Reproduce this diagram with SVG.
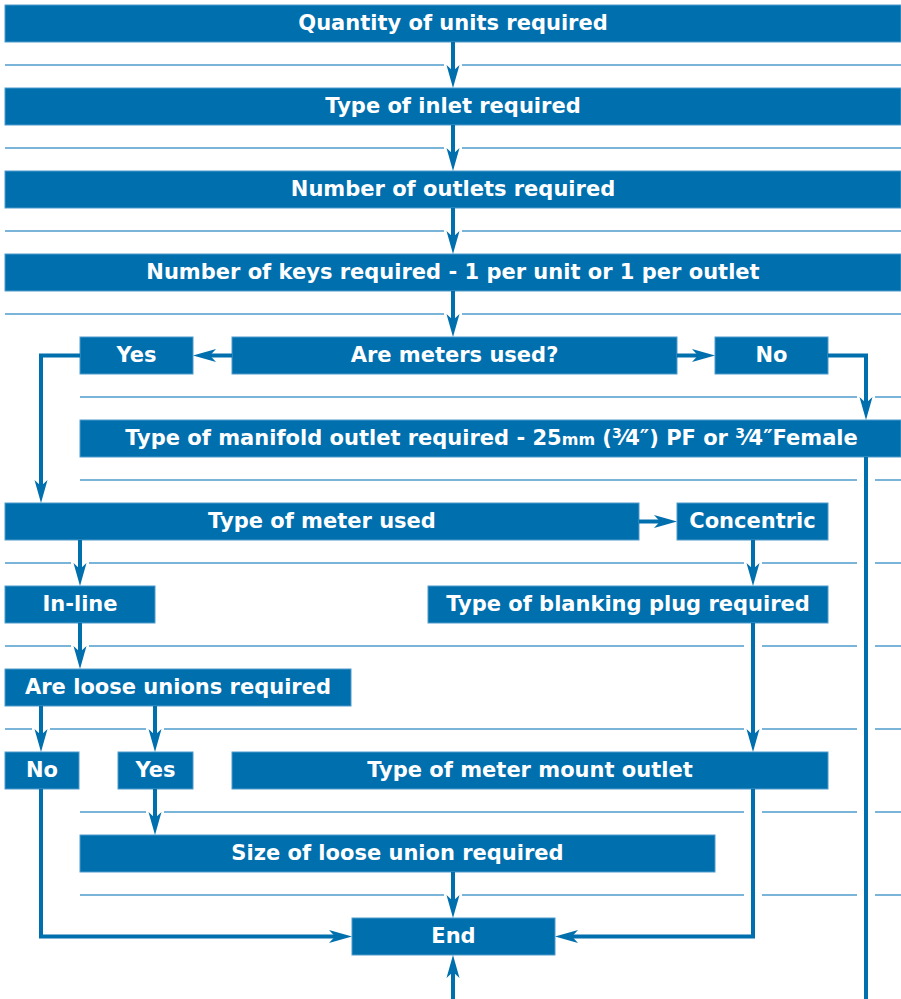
<svg xmlns="http://www.w3.org/2000/svg" width="901" height="999" viewBox="0 0 901 999">
<style>
.box{fill:#006fae;stroke:#4f9ccb;stroke-width:1}
.t{font-family:"DejaVu Sans","Liberation Sans",sans-serif;font-weight:bold;font-size:21px;fill:#ffffff;text-anchor:middle}
.grid{stroke:#4f9ccb;stroke-width:1.5;fill:none}
.c{stroke:#006fae;stroke-width:4;fill:none;stroke-linejoin:miter}
.a{marker-end:url(#ah)}
</style>
<defs>
<marker id="ah" markerUnits="userSpaceOnUse" viewBox="-23 -7 23 14" refX="-14" refY="0" markerWidth="23" markerHeight="14" orient="auto">
<path d="M0,0 L-23,-6.5 L-17,0 L-23,6.5 Z" fill="#006fae"/>
</marker>
</defs>
<g id="gridlines" class="grid">
<path d="M5 65H444M462 65H901M5 148H444M462 148H901M5 231H444M462 231H901M5 314H444M462 314H901"/>
<path d="M80 397H857M875 397H901M80 480H857M875 480H901"/>
<path d="M5 563H71M89 563H744M762 563H857M875 563H901M5 646H71M89 646H744M762 646H857M875 646H901"/>
<path d="M5 729H32M50 729H146M164 729H744M762 729H857M875 729H901"/>
<path d="M80 812H146M164 812H744M762 812H857M875 812H901"/>
<path d="M80 895H444M462 895H744M762 895H857M875 895H901"/>
</g>
<g id="n1"><rect class="box" x="5" y="5" width="896" height="37"/><text class="t" x="453" y="30">Quantity of units required</text></g>
<g id="n2"><rect class="box" x="5" y="88" width="896" height="37"/><text class="t" x="453" y="113">Type of inlet required</text></g>
<g id="n3"><rect class="box" x="5" y="171" width="896" height="37"/><text class="t" x="453" y="196">Number of outlets required</text></g>
<g id="n4"><rect class="box" x="5" y="254" width="896" height="37"/><text class="t" x="453" y="279">Number of keys required - 1 per unit or 1 per outlet</text></g>
<g id="n5yes"><rect class="box" x="80" y="337" width="113" height="37"/><text class="t" x="136.5" y="362">Yes</text></g>
<g id="n5"><rect class="box" x="232" y="337" width="445" height="37"/><text class="t" x="454.5" y="362">Are meters used?</text></g>
<g id="n5no"><rect class="box" x="715" y="337" width="113" height="37"/><text class="t" x="771.5" y="362">No</text></g>
<g id="n6"><rect class="box" x="80" y="420" width="821" height="37"/><text class="t" x="491.5" y="445">Type of manifold outlet required - 25<tspan font-size="16">mm</tspan> (<tspan font-size="14" dy="-7">3</tspan><tspan dy="7">⁄4″) PF or </tspan><tspan font-size="14" dy="-7">3</tspan><tspan dy="7">⁄4″Female</tspan></text></g>
<g id="n7"><rect class="box" x="5" y="503" width="634" height="37"/><text class="t" x="322" y="528">Type of meter used</text></g>
<g id="n7c"><rect class="box" x="677" y="503" width="151" height="37"/><text class="t" x="752.5" y="528">Concentric</text></g>
<g id="n8"><rect class="box" x="5" y="586" width="150" height="37"/><text class="t" x="80" y="611">In-line</text></g>
<g id="n8b"><rect class="box" x="428" y="586" width="400" height="37"/><text class="t" x="628" y="611">Type of blanking plug required</text></g>
<g id="n9"><rect class="box" x="5" y="669" width="346" height="37"/><text class="t" x="178" y="694">Are loose unions required</text></g>
<g id="n10no"><rect class="box" x="5" y="752" width="74" height="37"/><text class="t" x="42" y="777">No</text></g>
<g id="n10yes"><rect class="box" x="118" y="752" width="75" height="37"/><text class="t" x="155.5" y="777">Yes</text></g>
<g id="n10m"><rect class="box" x="232" y="752" width="596" height="37"/><text class="t" x="530" y="777">Type of meter mount outlet</text></g>
<g id="n11"><rect class="box" x="80" y="835" width="635" height="37"/><text class="t" x="397.5" y="860">Size of loose union required</text></g>
<g id="end"><rect class="box" x="352" y="918" width="203" height="37"/><text class="t" x="453.5" y="943">End</text></g>
<g id="connectors" class="c">
<path class="a" d="M453 42V74"/>
<path class="a" d="M453 125V157"/>
<path class="a" d="M453 208V240"/>
<path class="a" d="M453 291V323"/>
<path class="a" d="M232 355.5H207"/>
<path class="a" d="M677 355.5H701"/>
<path class="a" d="M80 355.5H41V489"/>
<path class="a" d="M828 355.5H866V406"/>
<path d="M866 457V999"/>
<path class="a" d="M453 999V969"/>
<path class="a" d="M639 521.5H663"/>
<path class="a" d="M80 540V572"/>
<path class="a" d="M753 540V572"/>
<path class="a" d="M80 623V655"/>
<path class="a" d="M753 623V738"/>
<path class="a" d="M41 706V738"/>
<path class="a" d="M155 706V738"/>
<path class="a" d="M155 789V821"/>
<path class="a" d="M453 872V904"/>
<path class="a" d="M41 789V936.5H338"/>
<path class="a" d="M753 789V936.5H569"/>
</g>
</svg>
